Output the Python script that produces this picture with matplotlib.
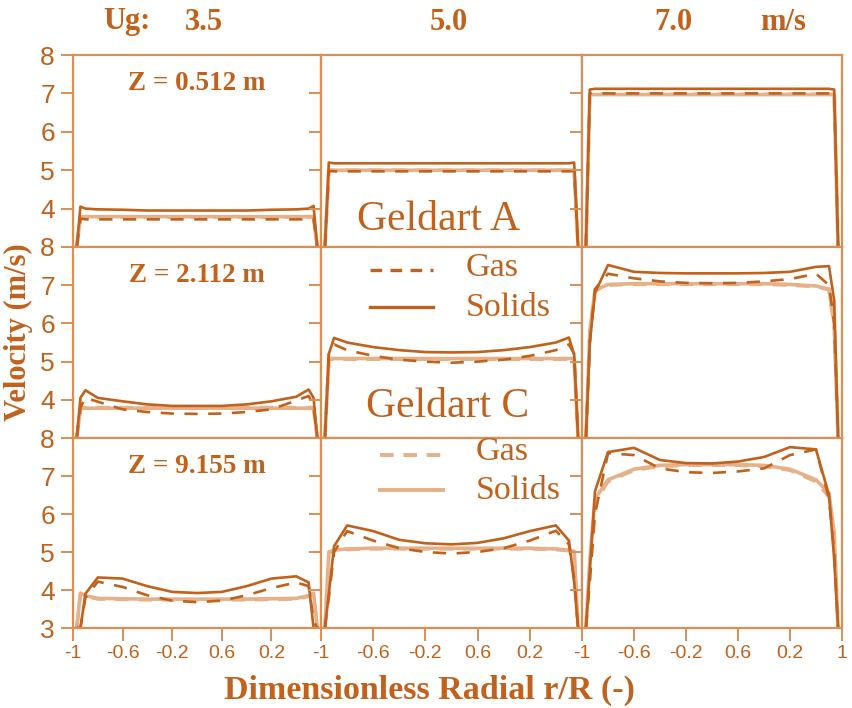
import numpy as np
import matplotlib.pyplot as plt

# colours
dark = '#C2611B'
light = '#E6B088'
frame = '#D98F55'

serif = ['Liberation Serif', 'DejaVu Serif']
sans = ['Liberation Sans Narrow', 'Liberation Sans', 'DejaVu Sans']

# radial positions r/R shared by every profile
r = [-0.97, -0.94, -0.9, -0.8, -0.6, -0.4, -0.2, 0.0, 0.2, 0.4, 0.6, 0.8, 0.9, 0.94, 0.97]

ug_labels = ['3.5', '5.0', '7.0']
z_labels = ['Z = 0.512 m', 'Z = 2.112 m', 'Z = 9.155 m']

# Geldart A solids velocity, [row][column]
a_solids = [
    [[3.0, 4.05, 4.0, 3.98, 3.97, 3.95, 3.95, 3.95, 3.95, 3.95, 3.97, 3.98, 4.0, 4.07, 3.0],
     [3.0, 5.2, 5.18, 5.18, 5.18, 5.18, 5.18, 5.18, 5.18, 5.18, 5.18, 5.18, 5.18, 5.2, 3.0],
     [3.0, 7.1, 7.12, 7.12, 7.12, 7.12, 7.12, 7.12, 7.12, 7.12, 7.12, 7.12, 7.12, 7.1, 3.0]],
    [[3.0, 4.05, 4.25, 4.05, 3.96, 3.88, 3.84, 3.84, 3.84, 3.88, 3.96, 4.08, 4.27, 4.05, 3.0],
     [3.0, 5.2, 5.62, 5.5, 5.38, 5.3, 5.25, 5.24, 5.25, 5.3, 5.38, 5.5, 5.63, 5.18, 3.0],
     [3.0, 5.5, 6.8, 7.53, 7.35, 7.32, 7.31, 7.31, 7.31, 7.32, 7.35, 7.48, 7.5, 6.6, 3.0]],
    [[3.0, 3.0, 3.9, 4.33, 4.3, 4.1, 3.95, 3.92, 3.95, 4.1, 4.3, 4.36, 4.2, 3.0, 3.0],
     [3.0, 3.9, 5.15, 5.7, 5.55, 5.32, 5.23, 5.2, 5.24, 5.36, 5.55, 5.7, 5.3, 4.2, 3.0],
     [3.0, 4.5, 6.6, 7.63, 7.74, 7.42, 7.34, 7.33, 7.38, 7.5, 7.76, 7.7, 6.5, 4.8, 3.0]],
]

# Geldart A gas velocity
a_gas = [
    [[3.0, 3.74, 3.72, 3.72, 3.72, 3.72, 3.72, 3.72, 3.72, 3.72, 3.72, 3.72, 3.72, 3.74, 3.0],
     [3.0, 4.98, 4.97, 4.97, 4.97, 4.97, 4.97, 4.97, 4.97, 4.97, 4.97, 4.97, 4.97, 4.98, 3.0],
     [3.0, 7.0, 7.0, 7.0, 7.0, 7.0, 7.0, 7.0, 7.0, 7.0, 7.0, 7.0, 7.0, 7.0, 3.0]],
    [[3.0, 3.8, 4.05, 3.95, 3.75, 3.68, 3.64, 3.63, 3.64, 3.68, 3.75, 3.98, 4.1, 3.85, 3.0],
     [3.0, 5.2, 5.45, 5.3, 5.15, 5.05, 5.0, 4.97, 5.0, 5.05, 5.15, 5.3, 5.45, 5.2, 3.0],
     [3.0, 5.5, 6.9, 7.3, 7.18, 7.1, 7.06, 7.05, 7.06, 7.1, 7.16, 7.3, 7.0, 6.0, 3.0]],
    [[3.0, 3.0, 3.8, 4.22, 4.08, 3.86, 3.72, 3.68, 3.72, 3.86, 4.05, 4.2, 4.1, 3.2, 3.0],
     [3.0, 3.8, 5.0, 5.55, 5.3, 5.1, 5.0, 4.96, 5.0, 5.1, 5.3, 5.56, 5.2, 4.3, 3.0],
     [3.0, 4.2, 6.0, 7.6, 7.55, 7.2, 7.1, 7.08, 7.12, 7.2, 7.55, 7.7, 6.4, 5.0, 3.0]],
]

# Geldart C solids velocity
c_solids = [
    [[3.0, 3.79, 3.79, 3.79, 3.79, 3.79, 3.79, 3.79, 3.79, 3.79, 3.79, 3.79, 3.79, 3.79, 3.0],
     [3.0, 5.0, 5.0, 5.0, 5.0, 5.0, 5.0, 5.0, 5.0, 5.0, 5.0, 5.0, 5.0, 5.0, 3.0],
     [3.0, 6.97, 6.97, 6.97, 6.97, 6.97, 6.97, 6.97, 6.97, 6.97, 6.97, 6.97, 6.97, 6.97, 3.0]],
    [[3.0, 3.78, 3.78, 3.78, 3.78, 3.78, 3.78, 3.78, 3.78, 3.78, 3.78, 3.78, 3.78, 3.78, 3.0],
     [3.0, 5.08, 5.08, 5.08, 5.08, 5.08, 5.08, 5.08, 5.08, 5.08, 5.08, 5.08, 5.08, 5.08, 3.0],
     [3.0, 5.8, 6.87, 7.02, 7.04, 7.04, 7.04, 7.04, 7.04, 7.04, 7.02, 6.98, 6.9, 6.0, 3.0]],
    [[3.0, 3.92, 3.85, 3.78, 3.77, 3.76, 3.76, 3.76, 3.76, 3.76, 3.77, 3.78, 3.85, 3.92, 3.0],
     [3.0, 5.0, 5.05, 5.08, 5.1, 5.1, 5.1, 5.1, 5.1, 5.1, 5.1, 5.08, 5.05, 5.02, 3.0],
     [3.0, 4.8, 6.4, 6.9, 7.18, 7.28, 7.3, 7.3, 7.3, 7.28, 7.18, 6.9, 6.55, 5.5, 3.0]],
]

# Geldart C gas velocity
c_gas = [
    [[3.0, 3.78, 3.78, 3.78, 3.78, 3.78, 3.78, 3.78, 3.78, 3.78, 3.78, 3.78, 3.78, 3.78, 3.0],
     [3.0, 5.0, 5.0, 5.0, 5.0, 5.0, 5.0, 5.0, 5.0, 5.0, 5.0, 5.0, 5.0, 5.0, 3.0],
     [3.0, 6.98, 6.98, 6.98, 6.98, 6.98, 6.98, 6.98, 6.98, 6.98, 6.98, 6.98, 6.98, 6.98, 3.0]],
    [[3.0, 3.8, 3.8, 3.8, 3.8, 3.8, 3.8, 3.8, 3.8, 3.8, 3.8, 3.8, 3.8, 3.8, 3.0],
     [3.0, 5.06, 5.06, 5.06, 5.06, 5.06, 5.06, 5.06, 5.06, 5.06, 5.06, 5.06, 5.06, 5.06, 3.0],
     [3.0, 5.7, 6.85, 7.0, 7.02, 7.02, 7.02, 7.02, 7.02, 7.02, 7.0, 6.96, 6.88, 5.9, 3.0]],
    [[3.0, 3.9, 3.83, 3.76, 3.75, 3.74, 3.74, 3.74, 3.74, 3.74, 3.75, 3.76, 3.83, 3.9, 3.0],
     [3.0, 4.98, 5.03, 5.06, 5.08, 5.08, 5.08, 5.08, 5.08, 5.08, 5.08, 5.06, 5.03, 5.0, 3.0],
     [3.0, 4.6, 6.3, 6.85, 7.15, 7.25, 7.28, 7.28, 7.28, 7.25, 7.15, 6.85, 6.45, 5.3, 3.0]],
]

xticks = [-1, -0.6, -0.2, 0.2, 0.6, 1]
xtick_labels = ['-1', '-0.6', '-0.2', '0.6', '0.2', '1']

W, H = 853, 708
col_px = [(73, 321), (321, 582), (582, 842)]
row_px = [(55, 247), (247, 438), (438, 628)]

fig = plt.figure(figsize=(W / 100, H / 100), dpi=100)

axes = [[None] * 3 for _ in range(3)]
for i, (top, bot) in enumerate(row_px):
    for j, (left, right) in enumerate(col_px):
        ax = fig.add_axes([left / W, 1 - bot / H, (right - left) / W, (bot - top) / H])
        axes[i][j] = ax
        ax.plot(r, c_gas[i][j], color=light, lw=2.4, ls=(0, (4, 3)))
        ax.plot(r, c_solids[i][j], color=light, lw=2.6)
        ax.plot(r, a_gas[i][j], color=dark, lw=1.9, ls=(0, (5, 4)))
        ax.plot(r, a_solids[i][j], color=dark, lw=1.9)
        ax.set_xlim(-1, 1)
        ax.set_ylim(3, 8)
        for s in ax.spines.values():
            s.set_color(frame)
            s.set_linewidth(1.6)
        ax.tick_params(axis='y', direction='out', length=9, width=1.4, color=frame,
                       labelsize=19, labelcolor=dark, pad=4)
        ax.tick_params(axis='x', direction='out', length=9, width=1.4, color=frame,
                       labelsize=14, labelcolor=dark, pad=3)
        ax.set_yticks([3, 4, 5, 6, 7, 8] if i == 2 else [4, 5, 6, 7, 8])
        if j > 0:
            ax.set_yticklabels([])
        else:
            for lab in ax.get_yticklabels():
                lab.set_family(sans)
        if i < 2:
            ax.set_xticks([])
        else:
            ax.set_xticks(xticks)
            labs = list(xtick_labels)
            if j < 2:
                labs[-1] = ''
            ax.set_xticklabels(labs, family=sans)

# heights
for i in range(3):
    axes[i][0].text(0.5, 0.85, z_labels[i], transform=axes[i][0].transAxes, ha='center',
                    va='center', fontsize=19.5, fontweight='bold', family=serif, color=dark)

# superficial gas velocity headers
fig.text(103 / W, 1 - 22 / H, 'Ug:', fontsize=22, fontweight='bold', family=serif,
         color=dark, va='center', ha='left')
ug_x = [204, 449, 673]
for x, lab in zip(ug_x, ug_labels):
    fig.text(x / W, 1 - 22 / H, lab, fontsize=22, fontweight='bold', family=serif,
             color=dark, va='center', ha='center')
fig.text(783 / W, 1 - 22 / H, 'm/s', fontsize=22, fontweight='bold', family=serif,
         color=dark, va='center', ha='center')

fig.text(439 / W, 1 - 220 / H, 'Geldart A', fontsize=30, family=serif, color=dark,
         ha='center', va='center')
fig.text(448 / W, 1 - 407 / H, 'Geldart C', fontsize=30, family=serif, color=dark,
         ha='center', va='center')

# hand made legends
fig.add_artist(plt.Line2D([370 / W, 433 / W], [1 - 270 / H] * 2, color=dark, lw=2.4,
                          ls=(0, (3.5, 2.5))))
fig.add_artist(plt.Line2D([370 / W, 433 / W], [1 - 307 / H] * 2, color=dark, lw=2.4))
fig.text(466 / W, 1 - 268 / H, 'Gas', fontsize=24.5, family=serif, color=dark, va='center')
fig.text(466 / W, 1 - 308 / H, 'Solids', fontsize=24.5, family=serif, color=dark, va='center')

fig.add_artist(plt.Line2D([380 / W, 443 / W], [1 - 455 / H] * 2, color=light, lw=2.8,
                          ls=(0, (3.5, 2.5))))
fig.add_artist(plt.Line2D([380 / W, 443 / W], [1 - 490 / H] * 2, color=light, lw=2.8))
fig.text(476 / W, 1 - 452 / H, 'Gas', fontsize=24.5, family=serif, color=dark, va='center')
fig.text(476 / W, 1 - 491 / H, 'Solids', fontsize=24.5, family=serif, color=dark, va='center')

fig.text(18 / W, 1 - 332 / H, 'Velocity (m/s)', rotation=90, fontsize=22, fontweight='bold',
         family=serif, color=dark, ha='center', va='center')
fig.text(429 / W, 1 - 690 / H, 'Dimensionless Radial r/R (-)', fontsize=24.5,
         fontweight='bold', family=serif, color=dark, ha='center', va='center')

fig.savefig('out.png', dpi=100)
